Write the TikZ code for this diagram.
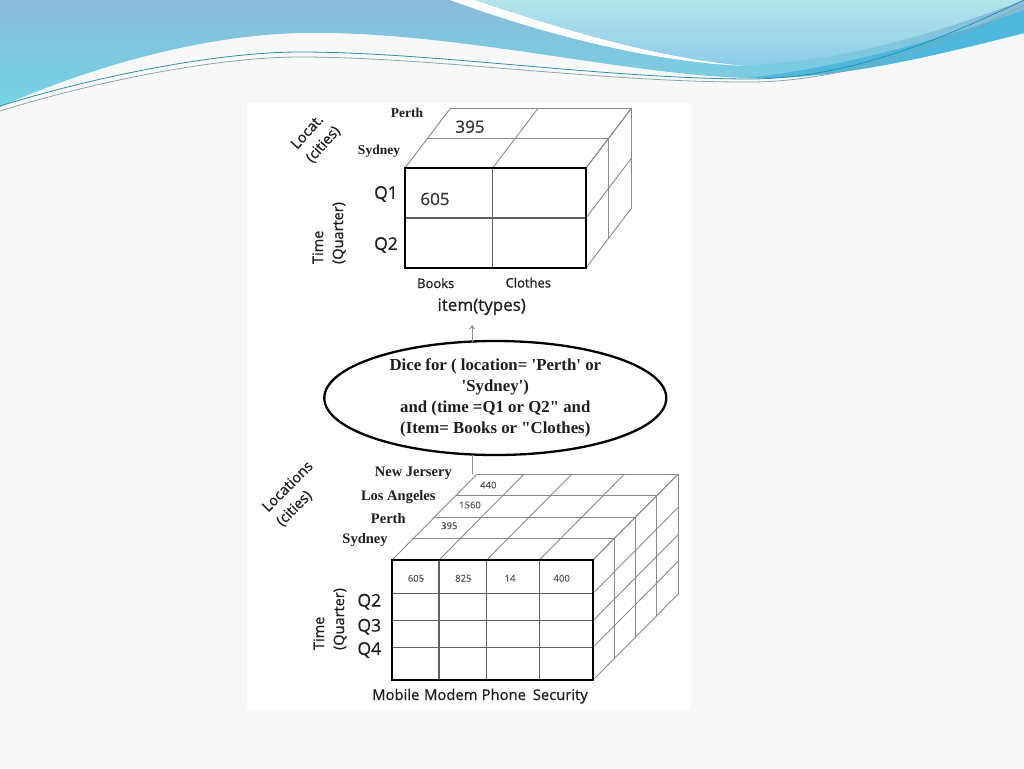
\documentclass[tikz,border=0pt]{standalone}
\usepackage{fontspec}
\setmainfont{Liberation Serif}
\newfontfamily\sansf{Open Sans}[FakeBold=0.7]
\newfontfamily\sansn{Open Sans}[FakeBold=0.3]
\usetikzlibrary{shapes.geometric,arrows.meta}
\definecolor{bgc}{HTML}{F8F8F8}
\definecolor{hdrA}{HTML}{88BCDA}
\definecolor{hdrB}{HTML}{74D4E4}
\definecolor{hdrC}{HTML}{B4E4EA}
\definecolor{hdrE}{HTML}{8CCDEA}
\definecolor{hdrD}{HTML}{4DB8DC}
\definecolor{lineA}{HTML}{2E8FA8}
\definecolor{lineB}{HTML}{8AA6AE}
\definecolor{gridgray}{HTML}{8A8A8A}
\definecolor{innergray}{HTML}{606060}
\definecolor{txt}{HTML}{1E1E1E}
\definecolor{numgray}{HTML}{555555}
\begin{document}
\begin{tikzpicture}[x=1pt,y=-1pt,
  gridline/.style={draw=gridgray, line width=0.9pt},
  frontbox/.style={draw=black, line width=2.3pt},
  innerline/.style={draw=innergray, line width=1.1pt},
  serlab/.style={font=\fontsize{13.5}{15}\selectfont\bfseries, text=txt, inner sep=0},
  serlabb/.style={font=\fontsize{14.5}{16}\selectfont\bfseries, text=txt, inner sep=0},
  bignum/.style={font=\sansf\fontsize{17}{19}\selectfont, text=txt!90, inner sep=0},
  qlab/.style={font=\sansf\fontsize{17.5}{19}\selectfont, text=txt, inner sep=0},
  itemlab/.style={font=\sansf\fontsize{13}{15}\selectfont, text=txt, inner sep=0, anchor=base},
  axislab/.style={font=\sansf\fontsize{14.5}{20}\selectfont, text=txt, inner sep=0, align=left},
  smallnum/.style={font=\sansn\fontsize{9.5}{11}\selectfont, text=numgray, inner sep=0},
  botlab/.style={font=\sansf\fontsize{14.8}{16}\selectfont, text=txt, inner sep=0, anchor=base},
  dicebox/.style={draw=black, line width=2.3pt, ellipse, inner sep=0pt,
     minimum width=342pt, minimum height=114pt, align=center,
     font=\fontsize{16.8}{21}\selectfont\bfseries, text=txt},
  conn/.style={draw=gridgray, line width=0.9pt}]
\useasboundingbox (0,0) rectangle (1024,768);
\fill[bgc] (0,0) rectangle (1024,768);

% ---------- header wave ----------
\shade[top color=hdrA, bottom color=hdrB] (0,0) -- (1024,0) -- (1024,33)
  .. controls (900,65) and (820,80) .. (745,78)
  .. controls (620,74) and (450,30) .. (300,33)
  .. controls (180,36) and (60,80) .. (0,107) -- cycle;
\fill[hdrD] (1024,10) -- (1024,33) .. controls (900,65) and (820,80) .. (745,78)
  .. controls (830,70) and (940,40) .. (1024,10) -- cycle;
\fill[white] (450,0) .. controls (560,40) and (660,62) .. (745,66)
  .. controls (660,58) and (570,32) .. (475,0) -- cycle;
\shade[top color=hdrC, bottom color=hdrE] (475,0) .. controls (570,32) and (660,58) .. (745,65)
  .. controls (850,62) and (950,28) .. (1024,0) -- cycle;
\draw[line width=0.8pt, lineA] (0,106) .. controls (100,75) and (220,52) .. (300,52)
  .. controls (430,52) and (600,78) .. (745,79) .. controls (850,80) and (950,35) .. (1024,0);
\draw[line width=0.8pt, lineB] (0,111) .. controls (100,80) and (220,57) .. (300,57)
  .. controls (430,57) and (600,82) .. (745,82) .. controls (850,83) and (950,40) .. (1024,6);

% ---------- picture area ----------
\fill[white] (247,103) rectangle (690,710);

% ---------- top cube ----------
\def\dx{22.8}\def\dy{-30}
\foreach \k in {1,2} {
  \draw[gridline] ({405+\k*\dx},{168+\k*\dy}) -- ({586+\k*\dx},{168+\k*\dy});
  \draw[gridline] ({586+\k*\dx},{168+\k*\dy}) -- ({586+\k*\dx},{268+\k*\dy});
}
\foreach \x in {405,492.7,586} \draw[gridline] (\x,168) -- ++({2*\dx},{2*\dy});
\foreach \y in {168,218,268} \draw[gridline] (586,\y) -- ++({2*\dx},{2*\dy});
\draw[innerline] (492.7,168) -- (492.7,268);
\draw[innerline] (405,218) -- (586,218);
\draw[frontbox] (405,168) rectangle (586,268);

\node[serlab] (tperth) at (407,112.7) {Perth};
\node[serlab] (tsyd) at (379,151.7) {Sydney};
\node[bignum] (t395) at (470,126.7) {395};
\node[bignum] (t605) at (435,199) {605};
\node[qlab] (tq1) at (386,194) {Q1};
\node[qlab] (tq2) at (386,245) {Q2};
\node[itemlab] (tbooks) at (435.7,288) {Books};
\node[itemlab] (tclothes) at (528.3,287.5) {Clothes};
\node[font=\sansf\fontsize{17}{19}\selectfont, text=txt, inner sep=0] (item) at (481.7,306.7) {item(types)};
\node[axislab, rotate=48] (tloc) at (316,138) {Locat.\\(cities)};
\node[axislab, rotate=90] (ttime) at (329,233) {Time\\(Quarter)};

% ---------- dice ellipse ----------
\node[dicebox] (dice) at (495.3,398) {Dice for ( location= \textquotesingle Perth\textquotesingle{} or\\\textquotesingle Sydney\textquotesingle)\\and (time =Q1 or Q2\textquotedbl{} and\\(Item= Books or \textquotedbl Clothes)};
\coordinate (dtop) at (472,341.5);
\coordinate (atip) at (472,325);
\draw[conn, -{To[length=4pt,width=6pt]}] (dtop) -- (atip);
\coordinate (dbot) at (472,454.5);
\coordinate (cubetop) at (472,474);
\draw[conn] (dbot) -- (cubetop);

% ---------- lower cube ----------
\def\ex{21.3}\def\ey{-21.5}
\foreach \k in {1,2,3,4} {
  \draw[gridline] ({392+\k*\ex},{560+\k*\ey}) -- ({593+\k*\ex},{560+\k*\ey});
  \draw[gridline] ({593+\k*\ex},{560+\k*\ey}) -- ({593+\k*\ex},{680+\k*\ey});
}
\foreach \x in {392,439,486.7,539.3,593} \draw[gridline] (\x,560) -- ++({4*\ex},{4*\ey});
\foreach \y in {560,593.3,620.7,647.3,680} \draw[gridline] (593,\y) -- ++({4*\ex},{4*\ey});
\foreach \x in {439,486.7,539.3} \draw[innerline] (\x,560) -- (\x,680);
\foreach \y in {593.3,620.7,647.3} \draw[innerline] (392,\y) -- (593,\y);
\draw[frontbox] (392,560) rectangle (593,680);

\node[serlabb] (bnj) at (413.3,473.3) {New Jersery};
\node[serlabb] (bla) at (398.3,496.7) {Los Angeles};
\node[serlabb] (bperth) at (388.3,518.3) {Perth};
\node[serlabb] (bsyd) at (365,540) {Sydney};
\node[smallnum] (n440) at (488.3,485) {440};
\node[smallnum] (n1560) at (470,505) {1560};
\node[smallnum] (n395) at (449.3,525.7) {395};
\node[smallnum] (n605) at (416,578.3) {605};
\node[smallnum] (n825) at (463.3,578.3) {825};
\node[smallnum] (n14) at (510,578.3) {14};
\node[smallnum] (n400) at (561.7,578.3) {400};
\node[qlab] (bq2) at (369.3,601.7) {Q2};
\node[qlab] (bq3) at (369.3,626.7) {Q3};
\node[qlab] (bq4) at (369.3,650) {Q4};
\node[axislab, rotate=90] (btime) at (330,619) {Time\\(Quarter)};
\node[axislab, rotate=45] (bloc) at (295,494) {Locations\\(cities)};
\node[botlab] (bmob) at (395.8,700) {Mobile};
\node[botlab] (bmod) at (450.8,700) {Modem};
\node[botlab] (bpho) at (503.8,700) {Phone};
\node[botlab] (bsec) at (560.3,700) {Security};
\end{tikzpicture}
\end{document}
